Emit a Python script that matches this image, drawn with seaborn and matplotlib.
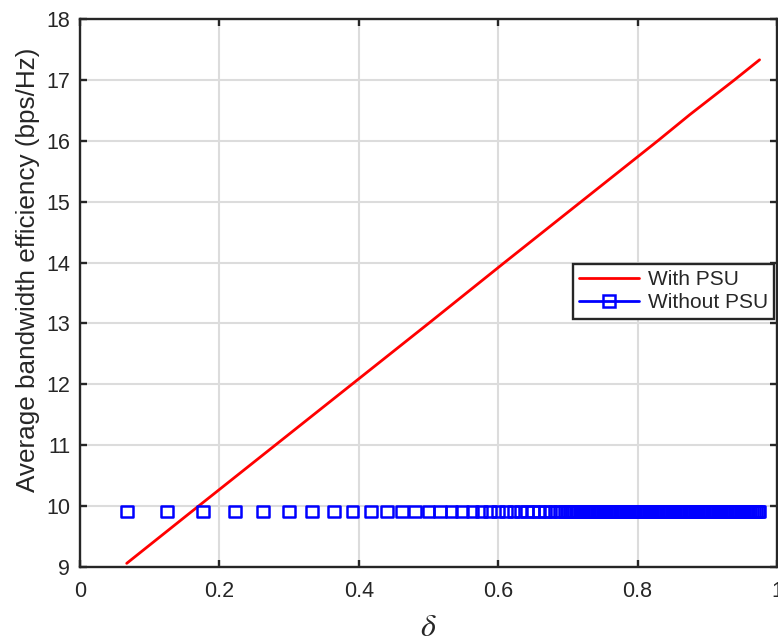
import matplotlib
matplotlib.use("Agg")
import matplotlib.pyplot as plt
from matplotlib.lines import Line2D
import seaborn as sns
import pandas as pd

# With PSU: average bandwidth efficiency versus delta
delta_psu = [0.067, 0.170, 0.280, 0.390, 0.500, 0.609, 0.719, 0.829, 0.875, 0.939, 0.975]
eff_psu = [9.06, 10.00, 11.00, 12.00, 13.00, 14.00, 15.00, 16.00, 16.43, 17.00, 17.33]

# Without PSU: constant efficiency at every sampled delta
delta_nopsu = [
    0.067, 0.125, 0.176, 0.222, 0.263, 0.300, 0.333, 0.364, 0.391, 0.417,
    0.440, 0.462, 0.481, 0.500, 0.517, 0.533, 0.548, 0.563, 0.576, 0.588,
    0.600, 0.611, 0.622, 0.632, 0.641, 0.650, 0.659, 0.667, 0.674, 0.682,
    0.689, 0.696,
    0.700, 0.703, 0.706, 0.709, 0.712, 0.715, 0.718, 0.721, 0.724, 0.727,
    0.730, 0.733, 0.736, 0.739, 0.742, 0.745, 0.748, 0.751, 0.754, 0.757,
    0.760, 0.763, 0.766, 0.769, 0.772, 0.775, 0.778, 0.781, 0.784, 0.787,
    0.790, 0.793, 0.796, 0.799, 0.802, 0.805, 0.808, 0.811, 0.814, 0.817,
    0.820, 0.823, 0.826, 0.829, 0.832, 0.835, 0.838, 0.841, 0.844, 0.847,
    0.850, 0.853, 0.856, 0.859, 0.862, 0.865, 0.868, 0.871, 0.874, 0.877,
    0.880, 0.883, 0.886, 0.889, 0.892, 0.895, 0.898, 0.901, 0.904, 0.907,
    0.910, 0.913, 0.916, 0.919, 0.922, 0.925, 0.928, 0.931, 0.934, 0.937,
    0.940, 0.943, 0.946, 0.949, 0.952, 0.955, 0.958, 0.961, 0.964, 0.967,
    0.970, 0.973, 0.975,
]
eff_nopsu = [9.91] * len(delta_nopsu)

x_ticks = [0, 0.2, 0.4, 0.6, 0.8, 1]
x_ticklabels = ["0", "0.2", "0.4", "0.6", "0.8", "1"]
y_ticks = [9, 10, 11, 12, 13, 14, 15, 16, 17, 18]

sns.set_theme(style="white")
plt.rcParams["font.family"] = ["Liberation Sans", "DejaVu Sans"]
plt.rcParams["mathtext.fontset"] = "stix"

df_psu = pd.DataFrame({"delta": delta_psu, "eff": eff_psu})
df_nopsu = pd.DataFrame({"delta": delta_nopsu, "eff": eff_nopsu})

fig = plt.figure(figsize=(7.78, 6.42), dpi=100)
ax = fig.add_axes([80 / 778, 75 / 642, 697 / 778, 548 / 642])

sns.lineplot(data=df_psu, x="delta", y="eff", ax=ax, color="#ff0000",
             linewidth=2.0, estimator=None, sort=False, zorder=3)
sns.scatterplot(data=df_nopsu, x="delta", y="eff", ax=ax, marker="s", s=72,
                facecolors="none", edgecolor="#0000ff", linewidth=1.8, zorder=4)

ax.set_xlim(0, 1)
ax.set_ylim(9, 18)
ax.set_xticks(x_ticks)
ax.set_xticklabels(x_ticklabels)
ax.set_yticks(y_ticks)
ax.grid(True, color="#dcdcdc", linewidth=1.5)
ax.set_axisbelow(True)

for side in ["left", "right", "top", "bottom"]:
    ax.spines[side].set_visible(True)
    ax.spines[side].set_color("#262626")
    ax.spines[side].set_linewidth(1.7)

ax.tick_params(axis="both", which="major", direction="in", length=5, width=1.7,
               color="#262626", labelsize=15.5, labelcolor="#262626",
               top=True, right=True, bottom=True, left=True)
ax.tick_params(axis="x", pad=10)
ax.tick_params(axis="y", pad=7)

ax.set_xlabel(r"$\delta$", fontsize=23, color="#262626", labelpad=8)
ax.set_ylabel("Average bandwidth efficiency (bps/Hz)", fontsize=18.8,
              color="#262626")
ax.yaxis.set_label_coords(-0.057, 0.542)

handles = [
    Line2D([], [], color="#ff0000", linewidth=2.0),
    Line2D([], [], color="#0000ff", linewidth=2.0, marker="s", markersize=8,
           markerfacecolor="none", markeredgewidth=1.8),
]
leg = ax.legend(handles, ["With PSU", "Without PSU"], loc="upper left",
                bbox_to_anchor=(0.707, 0.553), fontsize=15, frameon=True,
                fancybox=False, framealpha=1, edgecolor="#262626",
                handlelength=2.9, handletextpad=0.4, borderpad=0.3,
                labelspacing=0.2, borderaxespad=0)
leg.get_frame().set_linewidth(1.7)

fig.savefig("out.png", dpi=100)
